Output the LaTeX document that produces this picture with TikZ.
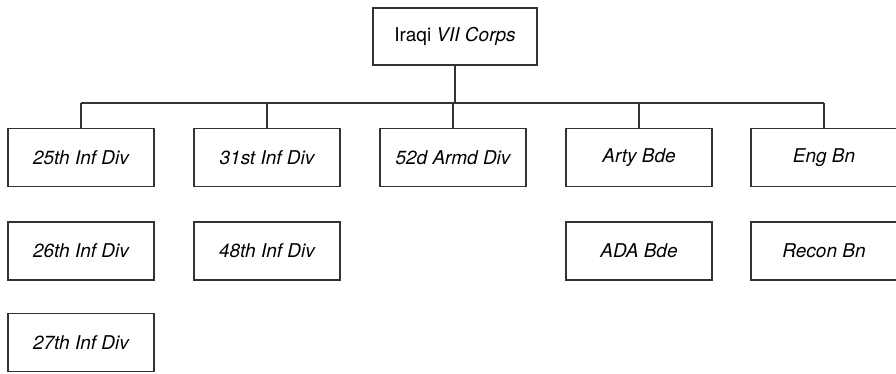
\documentclass[tikz,border=0pt]{standalone}
\usepackage{fontspec}
\setmainfont{TeX Gyre Heros}
\usetikzlibrary{positioning}

\begin{document}
\begin{tikzpicture}[
    x=1pt, y=-1pt,
    font=\fontsize{19}{22}\selectfont,
    line width=1.1pt,
    unit/.style={draw=black!80, minimum width=146pt, minimum height=58pt, inner sep=0pt, align=center, font=\fontsize{19}{22}\selectfont\itshape},
    corps/.style={draw=black!80, minimum width=164pt, minimum height=57pt, inner sep=0pt, align=center}
]
\useasboundingbox (0,0) rectangle (896,373);

\node[corps] (corps) at (455,36.5) {Iraqi \textit{VII Corps}};

\node[unit] (inf25) at (81,157.5) {25th Inf Div};
\node[unit] (inf26) at (81,251) {26th Inf Div};
\node[unit] (inf27) at (81,342.5) {27th Inf Div};

\node[unit] (inf31) at (267,157.5) {31st Inf Div};
\node[unit] (inf48) at (267,251) {48th Inf Div};

\node[unit] (armd52) at (453,157.5) {52d Armd Div};

\node[unit] (arty) at (639,157.5) {Arty Bde};
\node[unit] (ada) at (639,251) {ADA Bde};

\node[unit] (eng) at (824,157.5) {Eng Bn};
\node[unit] (recon) at (824,251) {Recon Bn};

\coordinate (bar) at (455,103);
\draw[black!80] (corps.south) -- (bar);
\draw[black!80] (inf25.north |- bar) -- (eng.north |- bar);
\foreach \n in {inf25,inf31,armd52,arty,eng}
    \draw[black!80] (\n.north) -- (\n.north |- bar);
\end{tikzpicture}
\end{document}
